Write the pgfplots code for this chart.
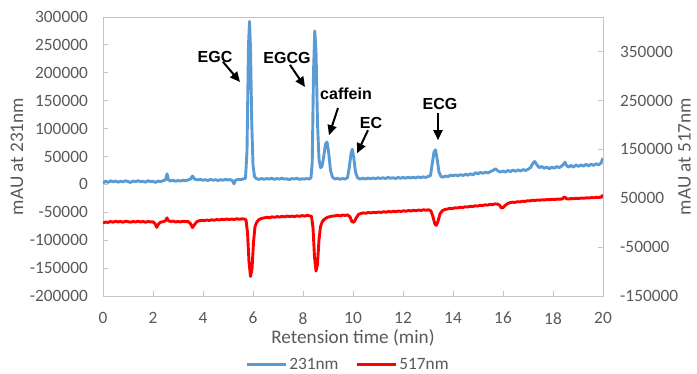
\documentclass[border=0pt]{standalone}
\usepackage{pgfplots}
\usepackage{pgfplotstable}
\pgfplotsset{compat=1.18}
\usepackage{fontspec}
\setmainfont{Carlito}
\newfontfamily\annfont{Liberation Sans}
\usetikzlibrary{arrows.meta}
\definecolor{blueline}{HTML}{5B9BD5}
\definecolor{redline}{HTML}{FF0000}
\definecolor{txtgray}{HTML}{595959}
\definecolor{axgray}{HTML}{C4C4C4}
\tikzset{ann/.style={font=\annfont\fontsize{16}{18}\selectfont\bfseries, text=black, inner sep=0pt},
  arr/.style={-{Triangle[length=10pt,width=9pt]}, line width=2pt, black}}

\pgfplotstableread{
t v
0.00 2000
0.10 6000
0.20 3500
0.30 6500
0.40 4500
0.50 6000
0.60 4000
0.70 5500
0.80 4500
0.90 6500
1.00 5000
1.10 3500
1.20 6000
1.30 4500
1.40 6500
1.50 5000
1.60 5500
1.70 4000
1.80 6500
1.90 5000
2.00 5500
2.10 3500
2.20 6000
2.30 5000
2.40 6500
2.50 8000
2.56 19000
2.62 8000
2.70 6000
2.80 7500
2.90 5500
3.00 7000
3.10 6000
3.20 7500
3.30 6500
3.40 8000
3.50 9500
3.58 15000
3.66 9500
3.80 8000
3.90 9000
4.00 7500
4.10 8500
4.20 7000
4.30 9000
4.40 7500
4.50 8500
4.60 7000
4.70 8500
4.80 7500
4.90 9000
5.00 8000
5.10 8500
5.18 6500
5.24 1000
5.30 7500
5.40 9000
5.50 8500
5.60 9500
5.70 11000
5.76 60000
5.82 250000
5.86 292000
5.90 245000
5.95 110000
6.00 35000
6.06 14000
6.15 10000
6.25 9000
6.35 10500
6.45 9000
6.55 10500
6.65 9500
6.75 11000
6.85 9000
6.95 10500
7.05 9500
7.15 11000
7.25 9500
7.35 10000
7.45 8500
7.55 10500
7.65 9500
7.75 11000
7.85 9000
7.95 10000
8.05 9500
8.15 10500
8.25 9500
8.32 12000
8.37 40000
8.42 200000
8.47 275000
8.52 240000
8.58 110000
8.64 45000
8.70 30000
8.76 32000
8.83 50000
8.90 72000
8.96 76000
9.02 60000
9.10 25000
9.18 13000
9.28 9500
9.38 11000
9.48 9000
9.58 10500
9.68 9500
9.78 12000
9.85 30000
9.92 55000
9.97 63000
10.03 48000
10.10 22000
10.18 12000
10.28 9500
10.40 11000
10.50 9500
10.60 11500
10.70 10000
10.80 11500
10.90 10000
11.00 12000
11.10 10500
11.20 12000
11.30 10500
11.40 12500
11.50 11000
11.60 12000
11.70 10500
11.80 12500
11.90 11000
12.00 12500
12.10 11000
12.20 13000
12.30 11500
12.40 13000
12.50 11500
12.60 13500
12.70 12000
12.80 13500
12.90 12500
13.00 14000
13.10 16000
13.18 40000
13.24 58000
13.30 62000
13.36 47000
13.44 22000
13.52 14000
13.60 13000
13.70 15000
13.80 14000
13.90 16500
14.00 15500
14.10 17000
14.20 15500
14.30 17500
14.40 16000
14.50 18000
14.60 16500
14.70 19000
14.80 17000
14.90 21000
15.00 19000
15.10 21500
15.20 20000
15.30 22000
15.40 20500
15.50 23000
15.60 25000
15.70 28000
15.80 24000
15.90 22000
16.00 24000
16.10 22000
16.20 25000
16.30 23000
16.40 25500
16.50 23500
16.60 26000
16.70 24000
16.80 26500
16.90 25000
17.00 27000
17.10 30000
17.20 38000
17.27 41000
17.34 36000
17.45 30000
17.55 32000
17.65 29000
17.75 31000
17.85 28000
17.95 31000
18.05 29000
18.15 32000
18.25 30000
18.35 33000
18.42 36000
18.48 40000
18.54 34000
18.62 31000
18.72 34000
18.82 31000
18.92 35000
19.02 32000
19.12 35000
19.22 32500
19.32 36000
19.42 33000
19.52 36500
19.62 34000
19.72 37000
19.82 35000
19.92 38000
19.97 44000
20.00 47000
}\bluedata

\pgfplotstableread{
t v
0.00 -1000
0.10 1500
0.20 500
0.30 2500
0.40 1000
0.50 3000
0.60 1500
0.70 2500
0.80 1000
0.90 3000
1.00 2000
1.10 1000
1.20 2500
1.30 1500
1.40 3000
1.50 1500
1.60 2500
1.70 1000
1.80 2500
1.90 1500
2.00 2000
2.08 -2000
2.15 -9500
2.22 -3000
2.30 1000
2.40 2000
2.50 4000
2.56 10000
2.62 4000
2.70 2500
2.80 3500
2.90 1500
3.00 2500
3.10 1500
3.20 3000
3.30 2000
3.40 2500
3.50 -2000
3.58 -10000
3.66 -4000
3.75 2000
3.85 4000
3.95 5000
4.05 4000
4.15 5500
4.25 4500
4.35 6000
4.45 5000
4.55 6500
4.65 5500
4.75 7000
4.85 6000
4.95 7500
5.05 6500
5.15 7500
5.25 6500
5.35 8000
5.45 7000
5.55 8000
5.65 7500
5.72 6000
5.78 -20000
5.84 -80000
5.90 -110000
5.96 -95000
6.02 -40000
6.08 -8000
6.16 2000
6.26 7000
6.36 9000
6.46 10000
6.56 11000
6.66 10000
6.76 12000
6.86 11000
6.96 12500
7.06 11500
7.16 13000
7.26 12000
7.36 13500
7.46 12500
7.56 13500
7.66 12500
7.76 14000
7.86 13000
7.96 14500
8.06 13500
8.16 15000
8.26 14000
8.34 13000
8.40 -10000
8.46 -70000
8.52 -99000
8.58 -85000
8.64 -35000
8.70 -8000
8.78 3000
8.88 8000
8.98 11000
9.08 12500
9.18 13500
9.28 14000
9.38 15000
9.48 14000
9.58 15500
9.68 15000
9.78 16000
9.88 12000
9.96 2000
10.04 1000
10.12 9000
10.22 17000
10.32 19000
10.42 20000
10.52 19500
10.62 21000
10.72 20000
10.82 21500
10.92 20500
11.02 22000
11.12 21000
11.22 22500
11.32 21500
11.42 23000
11.52 22000
11.62 23500
11.72 22500
11.82 24000
11.92 23000
12.02 24500
12.12 23500
12.22 25000
12.32 24000
12.42 25500
12.52 24500
12.62 26000
12.72 25000
12.82 26500
12.92 25500
13.02 26500
13.12 24000
13.20 12000
13.27 -2000
13.33 -5500
13.40 3000
13.48 18000
13.58 25000
13.68 27000
13.78 28000
13.88 29500
13.98 29000
14.08 30500
14.18 30000
14.28 31500
14.38 31000
14.48 32500
14.58 32000
14.68 33500
14.78 33000
14.88 34500
14.98 34000
15.08 35500
15.18 35000
15.28 36500
15.38 36000
15.48 37500
15.58 37000
15.68 38500
15.78 38000
15.86 36000
15.94 30000
16.00 31000
16.08 35000
16.18 39000
16.28 41000
16.38 42000
16.48 41500
16.58 43000
16.68 42500
16.78 44000
16.88 43500
16.98 45000
17.08 44500
17.18 46000
17.28 45500
17.38 46500
17.48 46000
17.58 47000
17.68 46500
17.78 47500
17.88 47000
17.98 48000
18.08 47500
18.18 48500
18.28 48000
18.38 49000
18.46 53000
18.54 49000
18.64 48500
18.74 49500
18.84 49000
18.94 50000
19.04 49500
19.14 50500
19.24 50000
19.34 51000
19.44 50500
19.54 51500
19.64 51000
19.74 52000
19.84 51500
19.94 53000
20.00 57000
}\reddata

\pgfplotsset{
  base/.style={
    scale only axis, width=500pt, height=279pt,
    xmin=0, xmax=20,
    tick label style={font=\fontsize{17.3}{20}\selectfont, text=txtgray,
      /pgf/number format/fixed, /pgf/number format/1000 sep={},
      /pgf/number format/assume math mode=true},
    label style={font=\fontsize{19.2}{22}\selectfont, text=txtgray},
    scaled ticks=false,
    tick align=inside, major tick length=5pt,
    tick style={axgray, line width=0.8pt},
    axis line style={axgray, line width=0.8pt},
  }
}

\begin{document}
\begin{tikzpicture}
\path[use as bounding box] (-103pt,-78pt) rectangle (594pt,296pt);
\begin{axis}[base,
  ymin=-200000, ymax=300000,
  ytick={-200000,-150000,...,300000},
  xtick={0,2,...,20},
  xtick pos=bottom, ytick pos=left,
  xticklabel style={inner sep=0pt, yshift=-16pt},
  yticklabel style={inner sep=0pt, xshift=-15pt},
  xlabel={Retension time (min)},
  ylabel={mAU at 231nm},
  xlabel style={at={(axis description cs:0.5,-0.1505)}, anchor=center},
  ylabel style={at={(axis description cs:-0.172,0.5)}, anchor=center},
  legend columns=2,
  legend style={at={(axis description cs:0.49,-0.247)}, anchor=center,
    draw=none, fill=none, font=\fontsize{17.3}{20}\selectfont, text=txtgray,
    nodes={inner sep=2pt},
    /tikz/every even column/.append style={column sep=15pt}},
  legend image code/.code={\draw[#1] (0pt,0pt) -- (39pt,0pt);},
]
\addplot[blueline, line width=2.9pt, line join=round] table[x=t,y=v] {\bluedata};
\addlegendentry{231nm}
\addlegendimage{redline, line width=2.9pt}
\addlegendentry{517nm}

\node[ann] at (axis cs:4.48,228600) {EGC};
\draw[arr] (axis cs:4.8,219600) -- (axis cs:5.48,183600);
\node[ann] at (axis cs:7.36,226800) {EGCG};
\draw[arr] (axis cs:7.48,214200) -- (axis cs:8.08,174600);
\node[ann] at (axis cs:9.72,162000) {caffein};
\draw[arr] (axis cs:9.4,136800) -- (axis cs:9.04,88200);
\node[ann] at (axis cs:10.72,109800) {EC};
\draw[arr] (axis cs:10.6,97200) -- (axis cs:10.16,55800);
\node[ann] at (axis cs:13.48,144000) {ECG};
\draw[arr] (axis cs:13.4,127800) -- (axis cs:13.4,79200);
\end{axis}

\begin{axis}[base,
  ymin=-150000, ymax=421000,
  ytick={-150000,-50000,...,350000},
  axis x line=none,
  axis y line*=right,
  ytick pos=right,
  yticklabel style={inner sep=0pt, xshift=17pt},
  ylabel={mAU at 517nm},
  ylabel style={at={(axis description cs:1.163,0.5)}, anchor=center},
]
\addplot[redline, line width=2.9pt, line join=round] table[x=t,y=v] {\reddata};
\end{axis}
\end{tikzpicture}
\end{document}
